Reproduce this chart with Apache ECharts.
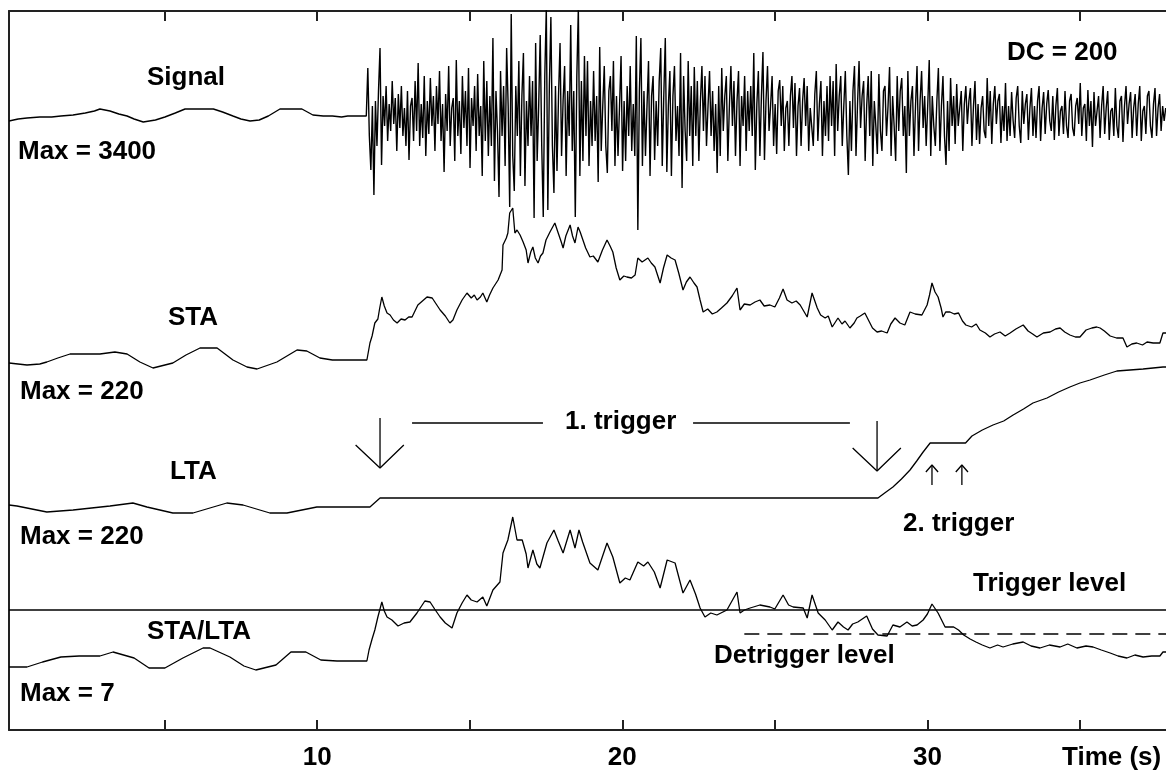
<!DOCTYPE html>
<html>
<head>
<meta charset="utf-8">
<script src="https://cdn.jsdelivr.net/npm/echarts@6/dist/echarts.min.js"></script>
<style>
  html, body { margin: 0; padding: 0; background: #fff; }
  #chart { width: 1166px; height: 776px; }
</style>
</head>
<body>
<div id="chart"></div>
<script>
// ---------------- DATA ----------------
// Time axis (seconds)
const tickSeconds = [5, 10, 15, 20, 25, 30, 35];
const labeledSeconds = [10, 20, 30];
const timeRange = [-0.1, 37.82];

// Signal, relative amplitude about DC. Quiet part (time, value) pairs
const signalQuietTime = [-0.10, 0.20, 0.49, 0.91, 1.30, 1.60, 2.00, 2.40, 2.70, 2.88, 3.21, 3.50, 3.77, 4.00, 4.30, 4.70, 5.01, 5.35, 5.67, 6.10, 6.60, 6.90, 7.24, 7.50, 7.80, 8.10, 8.40, 8.78, 9.10, 9.50, 9.86, 10.20, 10.50, 10.80, 11.00, 11.30, 11.61];
const signalQuietValue = [-5, -3, -2, -1, -1, 0, 1, 3, 5, 7, 5, 2, 0, -3, -6, -4, -1, 3, 7, 7, 7, 4, 0, -3, -5, -4, 0, 7, 7, 7, 1, 0, 0, -1, 0, 0, 0];
// Event part: samples every 0.05 s from 11.66 s (one row per second)
const signalEventStart = 11.66;
const signalEventStep = 0.05;
const signalEventValue = [
  48, -20, -54, 10, -79, 15, -30, 25, 68, -49, 20, -10, 30, -25, 12, -15, 35, -8, 18, -35,
  22, -12, 30, -20, 8, -30, 25, -44, 10, 18, -25, 35, -15, 53, -30, 12, -22, 40, -40, 15,
  -18, 38, -10, 20, -35, 30, -8, 45, -25, 12, -56, 22, -15, 50, -30, 8, 18, -45, 56, -20,
  15, -38, 40, -12, 25, -30, 48, -52, 18, -10, 30, -35, 42, -20, 10, -60, 55, -25, 35, -40,
  20, -30, 78, -65, 25, -15, -81, 45, -20, 30, -50, 68, 10, -91, 102, -40, -75, 30, -20, 55,
  -60, 20, 63, -70, 15, -30, 40, -20, 35, -102, 73, -45, 10, 81, -30, -101, 40, 108, -94, 30,
  99, -30, -77, 30, -55, 20, 73, -40, 15, 50, -60, 25, -20, 91, -35, 25, -101, 40, 108, -60,
  35, -45, 60, -20, 55, -50, 15, -30, 45, -25, 20, -66, 69, -35, 10, 50, -30, -57, 25, 40,
  -15, 55, -50, 20, -40, 10, 60, -55, 15, -45, 30, -20, 50, -35, 12, -40, 80, -114, 25, 78,
  -50, 25, -40, 10, 55, -60, 20, 40, -44, 15, -30, 35, 68, -50, 20, 78, -56, 10, 45, -60,
  20, 50, -25, 10, -40, 63, -72, 40, -15, -45, 55, -20, 30, -50, 49, -20, 35, -45, 15, 50,
  -15, 40, -30, 10, 45, -20, 25, -35, 12, -57, 30, -40, 48, -15, 20, 40, -45, 10, 50, -10,
  35, -40, 15, 45, -50, 20, -10, 40, -35, 25, -15, 30, -20, 63, -54, 12, 45, -40, 20, 64,
  -44, 15, 50, -15, 10, 40, -30, 12, -38, 25, 36, -10, 30, -35, 8, 15, -30, 20, 40, -12,
  33, -40, 10, 28, -30, 15, 38, -10, 30, -35, 8, 10, -30, 22, 45, -25, 12, 35, -40, 15,
  -20, 30, -25, 40, -10, 35, -40, 52, -15, 20, 40, -30, 10, 45, -20, -59, 15, -35, 25, 50,
  -40, 12, 55, -12, 20, 35, -45, 10, 40, -20, 45, -50, 15, -10, -38, 42, -15, -35, 25, 30,
  -20, 10, 49, -40, 20, -10, -45, 40, -15, 25, 38, -20, 10, -57, 45, -20, 15, 30, -40, 10,
  50, -35, 15, 45, -12, 20, -30, 10, 56, -40, 20, -10, -30, 15, 48, -35, 10, 40, -20, -49,
  15, -35, 38, -10, 20, -28, 32, -10, 8, 25, -35, 12, 30, -8, 15, 28, -30, 10, 35, -24,
  12, -28, 8, 20, -15, -22, 38, -10, 25, -28, 12, 30, -8, 15, 22, -27, 10, -15, 33, -25,
  10, -20, 24, -5, -22, 18, 30, -10, -27, 25, -8, 12, 22, -24, 8, 28, -20, 10, -22, 15,
  30, -25, 8, 24, -18, 12, 26, -5, -15, 20, -24, 10, 28, -20, 5, 10, -18, 25, -10, -22,
  15, 22, -12, -20, 10, 18, -8, 33, -20, 8, 12, -25, 26, -10, 15, -31, 24, -10, 5, 20,
  -22, 10, 30, -18, 8, 25, -24, 5, 8, -20, 28, -10, -22, 15, 20, -26, 10, 30, -8, 12,
  24, -22, 8, 22, -20, 12, 30, -25, 5, 10, -18, 20, 25, -10, -22, 12, 28, -20, 8, 22,
  -15, 10, -5, 8
];

// STA (relative units, Max = 220)
const staTime = [-0.10, 0.49, 0.91, 1.14, 1.50, 1.90, 2.40, 2.88, 3.37, 3.77, 4.19, 4.62, 5.27, 5.70, 6.16, 6.72, 7.24, 7.70, 8.03, 8.68, 9.34, 9.66, 10.09, 10.50, 11.01, 11.63,
  11.73, 11.80, 11.89, 11.99, 12.05, 12.12, 12.20, 12.29, 12.39, 12.50, 12.62, 12.75, 12.88, 13.00, 13.11, 13.30, 13.45, 13.60, 13.77, 13.90, 14.03, 14.20, 14.35, 14.45, 14.58, 14.75, 14.91, 15.05, 15.15, 15.24, 15.35, 15.43, 15.56, 15.65, 15.76, 15.93, 16.06, 16.09, 16.20, 16.25, 16.31, 16.41, 16.48, 16.55, 16.65, 16.75, 16.85, 16.91, 17.00, 17.07, 17.15, 17.24, 17.32, 17.40, 17.50, 17.63, 17.79, 17.90, 18.00, 18.06, 18.15, 18.29, 18.37, 18.45, 18.55, 18.62, 18.71, 18.80, 18.94, 19.05, 19.20, 19.35, 19.50, 19.60, 19.69, 19.80, 19.92, 20.05, 20.15, 20.30, 20.42, 20.51, 20.65, 20.84, 20.95, 21.07, 21.24, 21.35, 21.47, 21.60, 21.73, 21.85, 21.99, 22.10, 22.22, 22.35, 22.45, 22.55, 22.65, 22.80, 22.95, 23.10, 23.25, 23.43, 23.60, 23.76, 23.86, 24.00, 24.19, 24.35, 24.51, 24.65, 24.84, 25.00, 25.15, 25.27, 25.40, 25.56, 25.70, 25.83, 26.06, 26.22, 26.39, 26.50, 26.65, 26.75, 26.88, 27.07, 27.20, 27.30, 27.46, 27.60, 27.69, 27.80, 27.95, 28.10, 28.20, 28.35, 28.50, 28.68, 28.80, 28.94, 29.10, 29.26, 29.43, 29.60, 29.82, 29.99, 30.07, 30.15, 30.25, 30.35, 30.45, 30.51, 30.60, 30.74, 30.88, 31.02, 31.15, 31.26, 31.45, 31.60, 31.72, 31.90, 32.05, 32.20, 32.38, 32.55, 32.71, 32.90, 33.14, 33.30, 33.45, 33.59, 33.80, 34.02, 34.20, 34.35, 34.50, 34.67, 34.85, 35.00, 35.20, 35.39, 35.55, 35.66, 35.80, 35.99, 36.20, 36.41, 36.54, 36.70, 36.86, 37.05, 37.20, 37.40, 37.62, 37.72, 37.82];
const staValue = [65, 63, 64, 66, 70, 74, 74, 74, 76, 74, 66, 60, 65, 73, 80, 80, 68, 61, 59, 66, 78, 77, 70, 68, 68, 68,
  85, 92, 105, 109, 120, 131, 122, 115, 113, 108, 105, 109, 108, 111, 111, 123, 127, 131, 130, 124, 118, 112, 105, 108, 118, 128, 135, 130, 133, 128, 131, 135, 126, 133, 140, 148, 158, 183, 190, 195, 215, 220, 195, 198, 193, 186, 178, 165, 176, 181, 170, 165, 172, 175, 188, 196, 205, 195, 186, 180, 192, 203, 192, 185, 201, 196, 188, 180, 171, 172, 166, 178, 188, 182, 176, 160, 148, 152, 151, 150, 153, 170, 166, 170, 165, 161, 145, 160, 173, 170, 168, 155, 138, 146, 151, 145, 141, 128, 116, 119, 114, 116, 120, 125, 132, 140, 118, 124, 123, 126, 128, 122, 123, 121, 130, 139, 128, 125, 127, 123, 111, 135, 120, 113, 110, 112, 101, 110, 104, 107, 100, 105, 110, 112, 115, 106, 100, 96, 97, 95, 104, 110, 105, 103, 116, 114, 113, 123, 133, 145, 136, 131, 120, 111, 116, 116, 114, 115, 107, 103, 101, 104, 98, 95, 91, 94, 96, 92, 95, 99, 103, 97, 94, 91, 95, 96, 99, 100, 96, 93, 91, 91, 98, 100, 101, 100, 97, 92, 90, 90, 81, 84, 85, 83, 86, 85, 85, 95, 95];

// LTA (relative units, Max = 220)
const ltaTime = [-0.10, 0.16, 1.14, 2.00, 3.21, 3.96, 4.42, 5.27, 5.93, 7.04, 7.57, 8.45, 9.01, 9.99, 11.73, 11.95, 12.06, 28.38, 28.60, 28.87, 29.15, 29.43, 29.65, 29.86, 30.09, 31.25, 31.46, 31.80, 32.15, 32.50, 32.81, 33.15, 33.46, 33.92, 34.30, 34.67, 35.00, 35.33, 35.80, 36.21, 37.07, 37.72, 37.82];
const ltaValue = [82, 81, 75, 77, 81, 84, 80, 74, 74, 84, 82, 74, 74, 80, 80, 86, 89, 89, 94, 100, 108, 117, 126, 135, 144, 144, 151, 157, 162, 166, 172, 178, 184, 189, 195, 200, 204, 207, 212, 216, 218, 220, 220];

// STA/LTA (relative units, Max = 7)
const ratioTime = [-0.10, 0.49, 1.00, 1.60, 2.20, 2.88, 3.31, 4.00, 4.49, 5.01, 5.60, 6.26, 6.49, 7.14, 7.60, 7.99, 8.65, 9.14, 9.63, 10.12, 10.65, 11.20, 11.63,
  11.70, 11.80, 11.89, 11.99, 12.12, 12.20, 12.29, 12.45, 12.65, 12.85, 13.04, 13.27, 13.53, 13.70, 13.85, 14.03, 14.20, 14.42, 14.58, 14.75, 14.91, 15.05, 15.24, 15.43, 15.56, 15.76, 15.99, 16.09, 16.25, 16.41, 16.55, 16.72, 16.85, 16.91, 17.07, 17.20, 17.30, 17.53, 17.76, 17.90, 18.06, 18.29, 18.45, 18.58, 18.70, 18.94, 19.20, 19.50, 19.69, 19.92, 20.10, 20.25, 20.51, 20.70, 20.84, 21.05, 21.24, 21.47, 21.73, 21.99, 22.22, 22.40, 22.55, 22.71, 22.90, 23.10, 23.43, 23.76, 23.86, 24.00, 24.19, 24.51, 24.84, 25.00, 25.27, 25.45, 25.60, 25.93, 26.06, 26.22, 26.42, 26.65, 26.88, 27.07, 27.25, 27.40, 27.55, 27.72, 28.01, 28.20, 28.38, 28.68, 28.87, 29.10, 29.33, 29.50, 29.66, 29.86, 30.00, 30.15, 30.35, 30.58, 30.86, 31.02, 31.19, 31.40, 31.59, 31.80, 32.05, 32.30, 32.48, 32.80, 33.14, 33.40, 33.69, 34.00, 34.35, 34.60, 34.90, 35.20, 35.43, 35.70, 35.99, 36.25, 36.54, 36.80, 37.07, 37.35, 37.62, 37.72, 37.82];
const ratioValue = [57, 57, 62, 67, 68, 68, 72, 66, 56, 56, 66, 76, 76, 67, 58, 54, 59, 72, 72, 64, 63, 63, 63,
  74, 85, 94, 107, 122, 113, 107, 104, 98, 101, 102, 111, 123, 122, 115, 107, 101, 96, 111, 121, 129, 124, 122, 127, 118, 134, 142, 171, 184, 207, 184, 184, 170, 156, 174, 160, 156, 181, 194, 183, 171, 194, 176, 194, 182, 161, 154, 181, 167, 141, 146, 144, 162, 158, 162, 152, 136, 164, 161, 131, 144, 130, 116, 107, 111, 109, 114, 132, 111, 114, 116, 119, 117, 115, 129, 119, 117, 116, 106, 129, 111, 104, 94, 102, 97, 94, 100, 102, 108, 95, 89, 88, 99, 97, 102, 98, 99, 104, 110, 120, 111, 97, 97, 94, 89, 85, 82, 79, 76, 79, 77, 80, 82, 78, 76, 79, 77, 80, 76, 78, 77, 74, 71, 68, 66, 69, 67, 68, 68, 72, 72];
const triggerLevel = 114;
const detriggerLevel = 90;
const detriggerStart = 24.0;

// Annotation anchors (LTA units)
const bigArrowTimes = [12.06, 28.35];
const bigArrowTips = [119, 116];
const smallArrowTimes = [30.15, 31.13];
const smallArrowTip = 122;
const firstTriggerSpans = [[13.11, 17.40], [22.32, 27.46]];
const firstTriggerLevel = 164;

// ---------------- CHART ----------------
const zip = (t, v) => t.map((x, i) => [x, v[i]]);
const signalData = zip(signalQuietTime, signalQuietValue).concat(
  signalEventValue.map((v, i) => [+(signalEventStart + i * signalEventStep).toFixed(2), v])
);

function trace(name, data, yAxisIndex, width) {
  return {
    name, type: 'line', data, yAxisIndex, xAxisIndex: 0,
    showSymbol: false, symbol: 'none', animation: false, silent: true,
    lineStyle: { color: '#000', width: width || 1.3 }
  };
}
function poly(points, yAxisIndex) {
  return {
    type: 'line', data: points, yAxisIndex, xAxisIndex: 0,
    showSymbol: false, symbol: 'none', animation: false, silent: true,
    lineStyle: { color: '#000', width: 1.3 }
  };
}

const series = [
  trace('Signal', signalData, 0, 1.4),
  trace('STA', zip(staTime, staValue), 1),
  trace('LTA', zip(ltaTime, ltaValue), 2),
  Object.assign(trace('STA/LTA', zip(ratioTime, ratioValue), 3), {
    markLine: {
      silent: true, symbol: 'none', animation: false, label: { show: false },
      data: [
        { yAxis: triggerLevel, lineStyle: { color: '#000', width: 1.5, type: 'solid' } },
        [ { coord: [detriggerStart, detriggerLevel], lineStyle: { color: '#000', width: 1.5, type: [15, 8] } },
          { coord: [timeRange[1], detriggerLevel] } ]
      ]
    }
  })
];

// big downward arrows
bigArrowTimes.forEach((t, i) => {
  const tip = bigArrowTips[i];
  series.push(poly([[t, tip + 50], [t, tip]], 2));
  series.push(poly([[t - 0.8, tip + 23], [t, tip], [t + 0.78, tip + 23]], 2));
});
// small upward arrows
smallArrowTimes.forEach(t => {
  series.push(poly([[t, smallArrowTip - 20], [t, smallArrowTip]], 2));
  series.push(poly([[t - 0.2, smallArrowTip - 7], [t, smallArrowTip], [t + 0.2, smallArrowTip - 7]], 2));
});
firstTriggerSpans.forEach(s => {
  series.push(poly([[s[0], firstTriggerLevel], [s[1], firstTriggerLevel]], 2));
});

const FONT = 'bold 26px "Liberation Sans", Arial, sans-serif';
const labels = [
  ['Signal', 147, 78], ['Max = 3400', 18, 152], ['DC = 200', 1007, 53],
  ['STA', 168, 318], ['Max = 220', 20, 392],
  ['LTA', 170, 472], ['Max = 220', 20, 537],
  ['STA/LTA', 147, 632], ['Max = 7', 20, 694],
  ['1. trigger', 565, 422], ['2. trigger', 903, 524],
  ['Trigger level', 973, 584], ['Detrigger level', 714, 656],
  ['Time (s)', 1062, 758]
];
const graphic = labels.map(([text, x, y]) => ({
  type: 'text', x, y, silent: true, z: 100,
  style: { text, font: FONT, fill: '#000', textAlign: 'left', textVerticalAlign: 'middle' }
}));

const axisLine = { show: true, onZero: false, lineStyle: { color: '#222', width: 2 } };
const tick = { show: true, inside: true, length: 10, customValues: tickSeconds, lineStyle: { color: '#222', width: 2 } };
const yRanges = [[-614, 105], [-302, 417], [-143, 576], [-6, 713]];

const option = {
  animation: false,
  backgroundColor: '#fff',
  grid: { left: 9, right: 0, top: 11, bottom: 46, containLabel: false },
  xAxis: [
    {
      type: 'value', position: 'bottom', min: timeRange[0], max: timeRange[1],
      axisLine, axisTick: tick, splitLine: { show: false },
      axisLabel: {
        show: true, customValues: labeledSeconds, margin: 15,
        color: '#000', fontSize: 26, fontWeight: 'bold', fontFamily: '"Liberation Sans", Arial, sans-serif'
      }
    },
    {
      type: 'value', position: 'top', min: timeRange[0], max: timeRange[1],
      axisLine, axisTick: tick, splitLine: { show: false }, axisLabel: { show: false }
    }
  ],
  yAxis: yRanges.map((r, i) => ({
    type: 'value', min: r[0], max: r[1], position: 'left',
    show: i === 0,
    axisLine: i === 0 ? axisLine : { show: false },
    axisTick: { show: false }, axisLabel: { show: false }, splitLine: { show: false }
  })),
  series,
  graphic
};

const chart = echarts.init(document.getElementById('chart'), null, { renderer: 'canvas' });
chart.setOption(option);
</script>
</body>
</html>
